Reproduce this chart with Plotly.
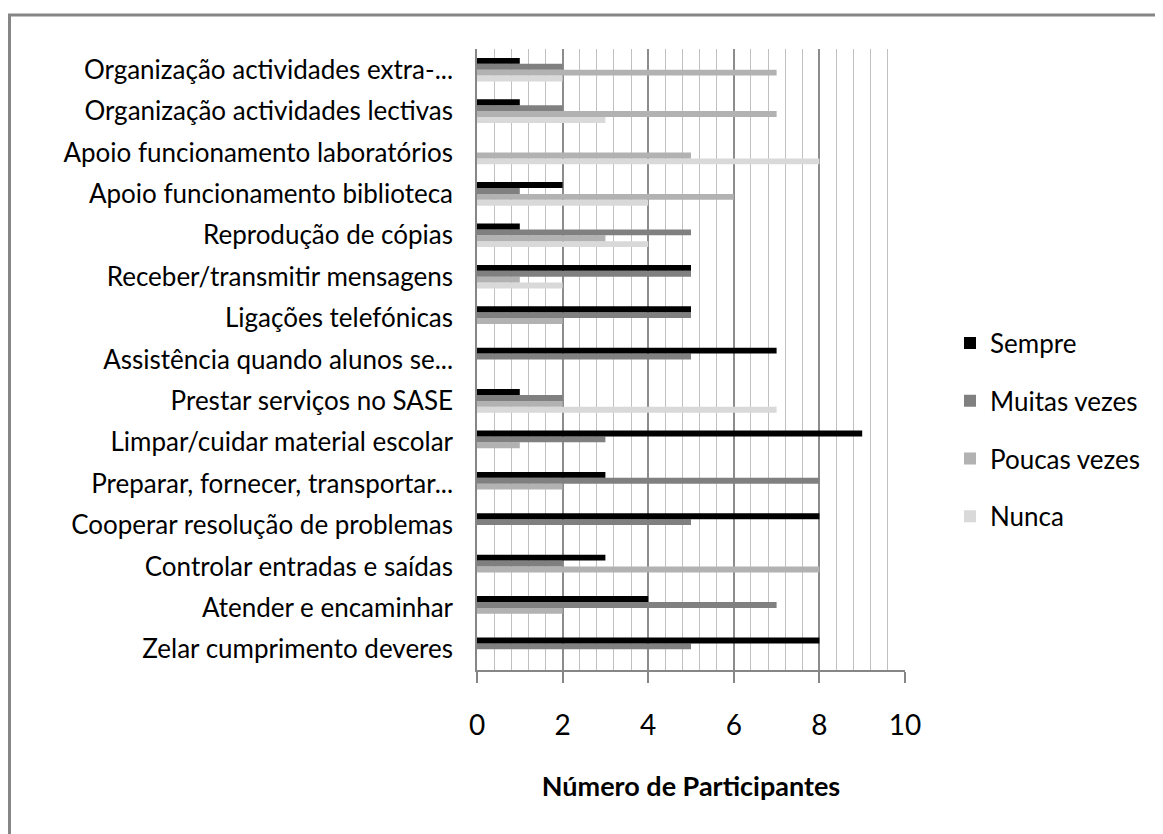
import plotly.graph_objects as go

categories = [
    "Organização actividades extra-...",
    "Organização actividades lectivas",
    "Apoio funcionamento laboratórios",
    "Apoio funcionamento biblioteca",
    "Reprodução de cópias",
    "Receber/transmitir mensagens",
    "Ligações telefónicas",
    "Assistência quando alunos se...",
    "Prestar serviços no SASE",
    "Limpar/cuidar material escolar",
    "Preparar, fornecer, transportar...",
    "Cooperar resolução de problemas",
    "Controlar entradas e saídas",
    "Atender e encaminhar",
    "Zelar cumprimento deveres",
]

sempre = [1, 1, 0, 2, 1, 5, 5, 7, 1, 9, 3, 8, 3, 4, 8]
muitas_vezes = [2, 2, 0, 1, 5, 5, 5, 5, 2, 3, 8, 5, 2, 7, 5]
poucas_vezes = [7, 7, 5, 6, 3, 1, 2, 0, 2, 1, 2, 0, 8, 2, 0]
nunca = [2, 3, 8, 4, 4, 2, 0, 0, 7, 0, 0, 0, 0, 0, 0]

series_names = ["Sempre", "Muitas vezes", "Poucas vezes", "Nunca"]
series_values = [sempre, muitas_vezes, poucas_vezes, nunca]
series_colors = ["#000000", "#808080", "#b2b2b2", "#d9d9d9"]

x_ticks = [0, 2, 4, 6, 8, 10]

FONT = "Lato"

fig = go.Figure()
# add in reverse so that "Sempre" sits at the top of each group
for rank, (name, vals, col) in reversed(list(enumerate(zip(series_names, series_values, series_colors)))):
    fig.add_trace(go.Bar(
        y=categories, x=vals, name=name, orientation="h",
        marker=dict(color=col, line=dict(width=0)),
        legendgroup=name, legendrank=rank + 1,
    ))

W, H = 1155, 826
L, R, T, B = 469, 258, 41, 164
pw = W - L - R
ph = H - T - B

def px_x(fx):
    return (fx - L) / pw

def px_y(fy):
    return (H - B - fy) / ph

fig.update_layout(
    width=W, height=H,
    margin=dict(l=L, r=R, t=T, b=B, pad=0),
    paper_bgcolor="white", plot_bgcolor="white",
    barmode="group", bargap=0.43, bargroupgap=0,
    font=dict(family=FONT, color="black", size=26),
    legend=dict(
        x=px_x(942), xanchor="left",
        y=px_y(422), yanchor="middle",
        traceorder="grouped", tracegroupgap=21,
        font=dict(size=26, family=FONT),
        itemwidth=30,
    ),
    xaxis=dict(
        range=[0, 10], tickvals=x_ticks, ticktext=[str(v) for v in x_ticks],
        showgrid=True, gridcolor="#8c8c8c", gridwidth=1.5,
        minor=dict(dtick=0.4, showgrid=True, gridcolor="#c0c0c0", gridwidth=1, ticks=""),
        showline=True, linecolor="#868686", linewidth=2,
        ticks="outside", ticklen=11, tickcolor="#868686", tickwidth=1.5,
        tickfont=dict(size=28, family=FONT),
        ticklabelstandoff=18,
        title=dict(text="<b>Número de Participantes</b>", font=dict(size=27, family=FONT), standoff=38),
        zeroline=False, fixedrange=True,
    ),
    yaxis=dict(
        categoryorder="array", categoryarray=list(reversed(categories)),
        showline=True, linecolor="#868686", linewidth=1.5,
        ticks="", ticklabelstandoff=17,
        tickfont=dict(size=26, family=FONT),
        showgrid=False, fixedrange=True,
    ),
    shapes=[
        dict(type="line", xref="paper", yref="paper",
             x0=px_x(0), x1=px_x(W + 5), y0=px_y(7), y1=px_y(7),
             line=dict(color="#868686", width=3)),
        dict(type="line", xref="paper", yref="paper",
             x0=px_x(1.5), x1=px_x(1.5), y0=px_y(6), y1=px_y(H + 5),
             line=dict(color="#868686", width=3)),
    ],
)

fig.write_html("out.html")
